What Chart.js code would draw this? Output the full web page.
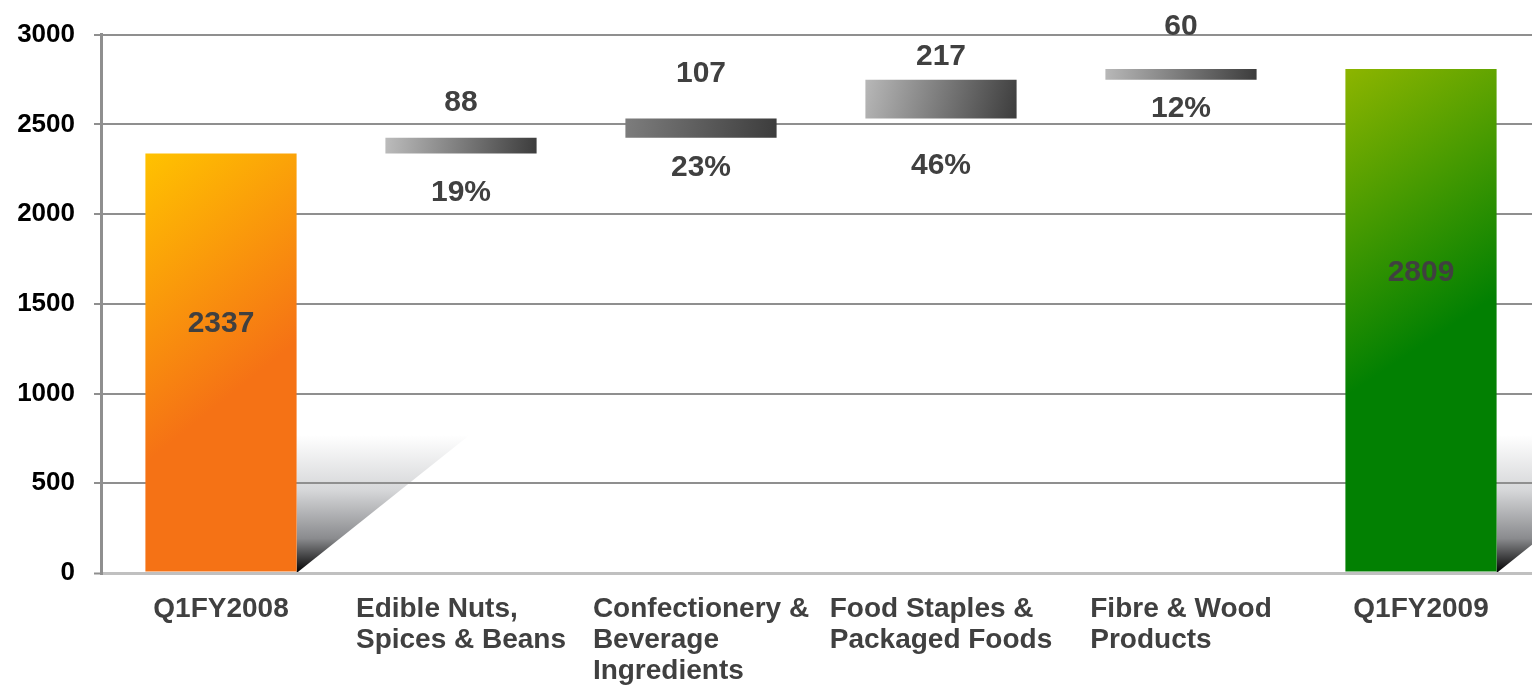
<!DOCTYPE html>
<html>
<head>
<meta charset="utf-8">
<title>Q1FY2008 to Q1FY2009 bridge</title>
<script src="https://cdn.jsdelivr.net/npm/chart.js@4"></script>
<style>
  html, body { margin: 0; padding: 0; background: #fff; overflow: hidden; }
  #wrap { position: relative; width: 1541px; height: 688px; }
</style>
</head>
<body>
<div id="wrap"><canvas id="bridge"></canvas></div>
<script>
// values
const categories = [
    ['Q1FY2008'],
    ['Edible Nuts,', 'Spices & Beans'],
    ['Confectionery &', 'Beverage', 'Ingredients'],
    ['Food Staples &', 'Packaged Foods'],
    ['Fibre & Wood', 'Products'],
    ['Q1FY2009']
];
const openingTotal = 2337;
const closingTotal = 2809;
const changes = [88, 107, 217, 60];
const changeShares = ['19%', '23%', '46%', '12%'];
const yTicks = [0, 500, 1000, 1500, 2000, 2500, 3000];

// floating [start, end] ranges for the waterfall, built from the values above
const ranges = [[0, openingTotal]];
let running = openingTotal;
changes.forEach(v => {
    ranges.push([running, running + v]);
    running += v;
});
ranges.push([0, closingTotal]);

const FONT = '"Liberation Sans", Arial, sans-serif';
const BAR_PCT = 0.63;
const floatLight = ['#bcbcbc', '#7d7d7d', '#b8b8b8', '#b8b8b8'];

// gradient fill per bar, from the bar's own place on the scales
function barFill(context) {
    const chart = context.chart;
    const i = context.dataIndex;
    const xs = chart.scales.x, ys = chart.scales.y;
    if (!chart.chartArea || !xs || !ys) return '#888';
    const half = xs.width / categories.length * BAR_PCT / 2;
    const cx = xs.getPixelForValue(i);
    const top = ys.getPixelForValue(ranges[i][1]);
    const bottom = ys.getPixelForValue(ranges[i][0]);
    const ctx = chart.ctx;
    let g;
    if (i === 0) {
        g = ctx.createLinearGradient(cx - half, top, cx + half, top + (bottom - top) * 0.45);
        g.addColorStop(0, '#ffc200');
        g.addColorStop(1, '#f57215');
    } else if (i === categories.length - 1) {
        g = ctx.createLinearGradient(cx - half, top, cx + half, top + (bottom - top) * 0.45);
        g.addColorStop(0, '#8db500');
        g.addColorStop(1, '#028002');
    } else {
        g = ctx.createLinearGradient(cx - half, top, cx + half, bottom);
        g.addColorStop(0, floatLight[i - 1]);
        g.addColorStop(1, '#3c3c3c');
    }
    return g;
}

// grey fading triangles to the right of the two totals
const shadowPlugin = {
    id: 'totalShadows',
    beforeDraw(chart, args, opts) {
        const ctx = chart.ctx;
        const els = chart.getDatasetMeta(0).data;
        const zero = chart.scales.y.getPixelForValue(0);
        ctx.save();
        [0, els.length - 1].forEach(i => {
            const el = els[i];
            const right = el.x + el.width / 2;
            const topY = zero - opts.height;
            const g = ctx.createLinearGradient(0, topY, 0, zero);
            g.addColorStop(0, '#ffffff');
            g.addColorStop(0.4, '#d6d7d9');
            g.addColorStop(0.75, '#8a8b8e');
            g.addColorStop(1, '#000000');
            ctx.fillStyle = g;
            ctx.beginPath();
            ctx.moveTo(right, topY);
            ctx.lineTo(right + opts.width, topY);
            ctx.lineTo(right, zero);
            ctx.closePath();
            ctx.fill();
        });
        ctx.restore();
    }
};

// values and shares written on the bars
const valuePlugin = {
    id: 'bridgeLabels',
    afterDatasetsDraw(chart, args, opts) {
        const ctx = chart.ctx;
        const els = chart.getDatasetMeta(0).data;
        ctx.save();
        ctx.font = 'bold 30px ' + FONT;
        ctx.fillStyle = '#404040';
        ctx.textAlign = 'center';
        ctx.textBaseline = 'alphabetic';
        const lift = 11; // half the digit height
        els.forEach((el, i) => {
            const top = Math.min(el.y, el.base);
            const bottom = Math.max(el.y, el.base);
            if (i === 0 || i === els.length - 1) {
                ctx.fillText(String(ranges[i][1]), el.x, bottom - (bottom - top) * 0.6 + lift);
            } else {
                ctx.fillText(String(changes[i - 1]), el.x, top + opts.valueOffsets[i - 1] + lift);
                ctx.fillText(changeShares[i - 1], el.x, bottom + opts.shareOffsets[i - 1] + lift);
            }
        });
        ctx.restore();
    }
};

// category names: lines left aligned, block centred under the tick
const categoryPlugin = {
    id: 'blockLabels',
    afterDraw(chart, args, opts) {
        const ctx = chart.ctx;
        const xs = chart.scales.x;
        ctx.save();
        ctx.font = 'bold 28px ' + FONT;
        ctx.fillStyle = '#404040';
        ctx.textAlign = 'left';
        ctx.textBaseline = 'alphabetic';
        categories.forEach((lines, i) => {
            const w = Math.max(...lines.map(l => ctx.measureText(l).width));
            const left = xs.getPixelForTick(i) - w / 2;
            lines.forEach((l, k) => ctx.fillText(l, left, xs.top + opts.firstBaseline + k * opts.lineHeight));
        });
        ctx.restore();
    }
};

new Chart(document.getElementById('bridge'), {
    type: 'bar',
    data: {
        labels: categories,
        datasets: [{
            data: ranges,
            backgroundColor: barFill,
            borderWidth: 0,
            categoryPercentage: 1,
            barPercentage: BAR_PCT
        }]
    },
    options: {
        responsive: true,
        maintainAspectRatio: false,
        animation: false,
        layout: { padding: { top: 34, left: 0, right: 0, bottom: 0 } },
        scales: {
            x: {
                grid: { display: false },
                border: { display: true, color: '#c0c0c0', width: 3 },
                ticks: { display: false },
                afterFit: s => { s.height = 115; }
            },
            y: {
                min: 0,
                max: 3000,
                afterBuildTicks: s => { s.ticks = yTicks.map(v => ({ value: v })); },
                grid: {
                    color: c => c.tick && c.tick.value === 0 ? '#c0c0c0' : '#8f8f8f',
                    lineWidth: c => c.tick && c.tick.value === 0 ? 3 : 2,
                    tickColor: '#8f8f8f',
                    tickLength: 7,
                    tickWidth: 2
                },
                border: { color: '#8f8f8f', width: 3 },
                ticks: {
                    color: '#000',
                    padding: 19,
                    font: { family: FONT, size: 26, weight: 'bold' },
                    callback: v => String(v)
                },
                afterFit: s => { s.width = 101; }
            }
        },
        plugins: {
            legend: { display: false },
            tooltip: { enabled: false },
            totalShadows: { height: 138, width: 173 },
            bridgeLabels: { valueOffsets: [-38, -48, -26, -45], shareOffsets: [36, 27, 44, 26] },
            blockLabels: { firstBaseline: 44, lineHeight: 31 }
        }
    },
    plugins: [shadowPlugin, valuePlugin, categoryPlugin]
});
</script>
</body>
</html>
